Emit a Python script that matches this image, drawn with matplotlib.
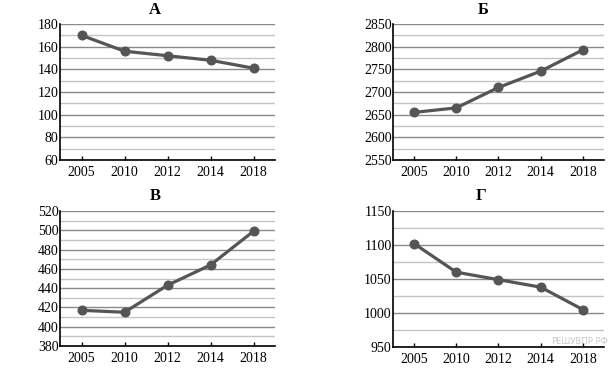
import matplotlib.pyplot as plt
from matplotlib.ticker import MultipleLocator

plt.rcParams['font.family'] = ['Liberation Serif', 'DejaVu Serif']

years = ['2005', '2010', '2012', '2014', '2018']

# данные по панелям
vals_a = [170, 156, 152, 148, 141]
vals_b = [2655, 2665, 2710, 2746, 2793]
vals_v = [417, 415, 443, 464, 499]
vals_g = [1102, 1060, 1049, 1038, 1005]

titles = ['А', 'Б', 'В', 'Г']
ylims = [(60, 180), (2550, 2850), (380, 520), (950, 1150)]
majors = [20, 50, 20, 50]
minors = [10, 25, 10, 25]
series = [vals_a, vals_b, vals_v, vals_g]

W, H = 610, 370
fig = plt.figure(figsize=(6.1, 3.7), dpi=100)

# положения осей в пикселях: left, top, right, bottom
boxes = [(60, 24, 275, 160), (393, 24, 604, 160),
         (60, 211, 275, 346), (393, 211, 604, 347)]
title_x = [155, 483, 155, 481]
title_y = [10, 10, 196, 196]

for i in range(4):
    l, t, r, b = boxes[i]
    ax = fig.add_axes([l / W, 1 - b / H, (r - l) / W, (b - t) / H])
    x = list(range(len(years)))
    ax.plot(x, series[i], '-o', color='#555555', linewidth=2.3,
            markersize=6.2, zorder=3)
    ax.set_xlim(-0.5, 4.5)
    ax.set_ylim(*ylims[i])
    ax.set_xticks(x)
    ax.set_xticklabels(years)
    ax.yaxis.set_major_locator(MultipleLocator(majors[i]))
    ax.yaxis.set_minor_locator(MultipleLocator(minors[i]))
    ax.grid(True, which='major', axis='y', color='#8a8a8a', linewidth=1.0)
    ax.grid(True, which='minor', axis='y', color='#c4c4c4', linewidth=1.0)
    ax.set_axisbelow(True)
    for s in ['top', 'right']:
        ax.spines[s].set_visible(False)
    ax.spines['left'].set_linewidth(1.2)
    ax.spines['bottom'].set_linewidth(1.2)
    ax.tick_params(axis='x', direction='in', length=3, width=1,
                   labelsize=10, pad=4)
    ax.tick_params(axis='y', which='both', length=0, labelsize=10, pad=1)
    fig.text(title_x[i] / W, 1 - title_y[i] / H, titles[i],
             ha='center', va='center', fontsize=12, fontweight='bold')

fig.text(608 / W, 1 - 342 / H, 'РЕШУВПР.РФ', ha='right', va='center',
         fontsize=6, color='#c8c8c8', family=['DejaVu Sans'])

plt.savefig('out.png', dpi=100)
